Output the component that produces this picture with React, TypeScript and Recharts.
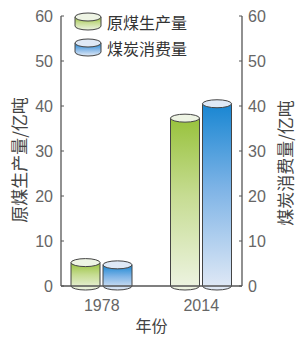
import React from "react";
import { BarChart, Bar, XAxis, YAxis, Legend } from "recharts";

// 原煤生产量 / 煤炭消费量 (亿吨)
const years = ["1978", "2014"];
const production = [5.2, 37.3];
const consumption = [4.7, 40.5];
const yTicks = [0, 10, 20, 30, 40, 50, 60];

const data = years.map((year, i) => ({
  year,
  production: production[i],
  consumption: consumption[i],
}));

const AXIS = "#555";
const TICK_FONT = { fill: "#666", fontSize: 16, fontFamily: "Liberation Sans, Arial, sans-serif" };
const CJK = "Noto Sans CJK SC, sans-serif";

const topFace: Record<string, string> = {
  "url(#gGreen)": "#eef4e4",
  "url(#gBlue)": "#dfe9f6",
};

// cylinder-shaped bar
function Cylinder(props: any) {
  const { x, y, width, height, fill } = props;
  if (!width || height == null) return null;
  const rx = width / 2;
  const ry = 4;
  const bottom = y + height;
  const d = `M${x},${y} L${x},${bottom} A${rx},${ry} 0 0 0 ${x + width},${bottom} L${x + width},${y} Z`;
  return (
    <g>
      <path d={d} fill={fill} stroke="#444" strokeWidth={1} />
      <ellipse cx={x + rx} cy={y} rx={rx} ry={ry} fill={topFace[fill] || "#fff"} stroke="#444" strokeWidth={1} />
    </g>
  );
}

function LegendIcon({ grad, face }: { grad: string; face: string }) {
  return (
    <svg width={28} height={20} style={{ display: "block" }}>
      <path d="M1,5 L1,14 A13,4 0 0 0 27,14 L27,5 Z" fill={grad} stroke="#444" strokeWidth={1} />
      <ellipse cx={14} cy={5} rx={13} ry={4} fill={face} stroke="#444" strokeWidth={1} />
    </svg>
  );
}

function LegendBox() {
  const rows = [
    { name: "原煤生产量", grad: "url(#gGreen)", face: "#eef4e4" },
    { name: "煤炭消费量", grad: "url(#gBlue)", face: "#dfe9f6" },
  ];
  return (
    <div style={{ fontFamily: CJK, fontSize: 16, color: "#333" }}>
      {rows.map((r) => (
        <div key={r.name} style={{ display: "flex", alignItems: "center", height: 26 }}>
          <LegendIcon grad={r.grad} face={r.face} />
          <span style={{ marginLeft: 5, lineHeight: "20px" }}>{r.name}</span>
        </div>
      ))}
    </div>
  );
}

function SideLabel(props: any) {
  const { viewBox, dx, dy, text } = props;
  const cx = viewBox.x + dx;
  const cy = viewBox.y + viewBox.height / 2 + dy;
  return (
    <text x={cx} y={cy} transform={`rotate(-90 ${cx} ${cy})`} textAnchor="middle" dominantBaseline="central"
      fontFamily={CJK} fontSize={17} fill="#444">
      {text}
    </text>
  );
}

function BottomLabel(props: any) {
  const vb = props.viewBox;
  return (
    <text x={vb.x + vb.width / 2} y={vb.y + 39} textAnchor="middle" dominantBaseline="central"
      fontFamily={CJK} fontSize={16} fill="#444">
      年份
    </text>
  );
}

export default function App() {
  return (
    <div style={{ position: "fixed", left: 0, top: 0, width: 297, height: 339, background: "#fff" }}>
      <BarChart width={297} height={339} data={data} margin={{ top: 16, right: 0, bottom: 0, left: 0 }}
        barSize={29} barGap={3}>
        <defs>
          <linearGradient id="gGreen" x1="0" y1="0" x2="0" y2="1">
            <stop offset="0%" stopColor="#98c23c" />
            <stop offset="45%" stopColor="#c6dc92" />
            <stop offset="100%" stopColor="#eef4e3" />
          </linearGradient>
          <linearGradient id="gBlue" x1="0" y1="0" x2="0" y2="1">
            <stop offset="0%" stopColor="#1886d2" />
            <stop offset="45%" stopColor="#7db3e6" />
            <stop offset="100%" stopColor="#e2eaf6" />
          </linearGradient>
        </defs>
        <XAxis dataKey="year" height={53} padding={{ left: -9, right: -9 }}
          axisLine={{ stroke: AXIS, strokeWidth: 1.3 }} tickLine={false} tick={TICK_FONT} tickMargin={8}
          label={<BottomLabel />} />
        <YAxis yAxisId="l" orientation="left" width={61} domain={[0, 60]} ticks={yTicks} interval={0}
          axisLine={{ stroke: AXIS, strokeWidth: 1.3 }} tickLine={{ stroke: AXIS }} tickSize={-3} tickMargin={11}
          tick={TICK_FONT} label={<SideLabel text="原煤生产量/亿吨" dx={18} dy={9} />} />
        <YAxis yAxisId="r" orientation="right" width={55} domain={[0, 60]} ticks={yTicks} interval={0}
          axisLine={{ stroke: AXIS, strokeWidth: 1.3 }} tickLine={{ stroke: AXIS }} tickSize={-3} tickMargin={9}
          tick={TICK_FONT} label={<SideLabel text="煤炭消费量/亿吨" dx={42} dy={12} />} />
        <Legend content={<LegendBox />} layout="horizontal" verticalAlign="middle" align="center"
          wrapperStyle={{ top: 9, left: 74, width: 140 }} />
        <Bar yAxisId="l" dataKey="production" name="原煤生产量" fill="url(#gGreen)" shape={<Cylinder />}
          isAnimationActive={false} />
        <Bar yAxisId="r" dataKey="consumption" name="煤炭消费量" fill="url(#gBlue)" shape={<Cylinder />}
          isAnimationActive={false} />
      </BarChart>
    </div>
  );
}
